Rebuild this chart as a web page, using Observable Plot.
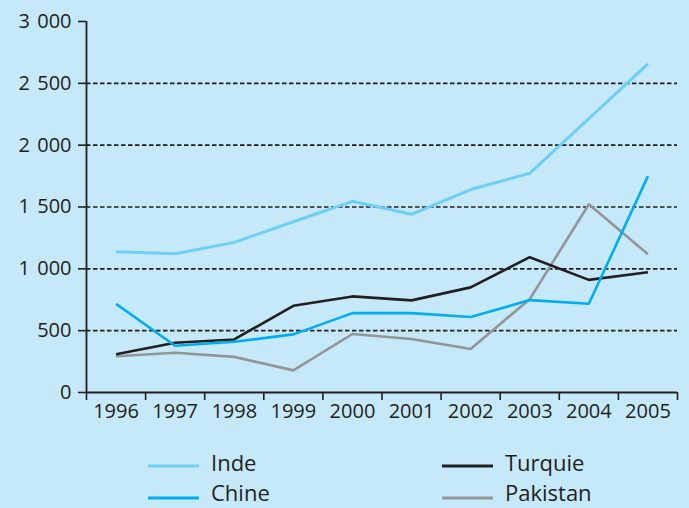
<!DOCTYPE html>
<html>
<head>
<meta charset="utf-8">
<script src="https://cdn.jsdelivr.net/npm/d3@7"></script>
<script src="https://cdn.jsdelivr.net/npm/@observablehq/plot@0.6"></script>
<style>
  html, body { margin: 0; padding: 0; background: #c6e9f9; overflow: hidden; }
  #chart { width: 689px; height: 508px; position: relative; }
  #chart svg { display: block; }
  g[aria-label="y-axis tick label"] text { word-spacing: 2px; }
</style>
</head>
<body>
<div id="chart"></div>
<script>
const years = [1996, 1997, 1998, 1999, 2000, 2001, 2002, 2003, 2004, 2005];
const inde     = [1138, 1122, 1214, 1381, 1546, 1441, 1641, 1773, 2214, 2657];
const chine    = [717, 378, 410, 470, 642, 642, 610, 747, 718, 1750];
const turquie  = [310, 402, 429, 701, 777, 745, 850, 1094, 911, 973];
const pakistan = [293, 321, 288, 179, 473, 433, 352, 755, 1522, 1118];
const yTicks = [0, 500, 1000, 1500, 2000, 2500, 3000];
const gridValues = [500, 1000, 1500, 2000, 2500];
const seriesNames = ["Inde", "Chine", "Turquie", "Pakistan"];
const seriesColors = ["#6dcff6", "#00aeef", "#231f20", "#939598"];

const ink = "#231f20";
const x0 = years[0] - 0.5, x1 = years[years.length - 1] + 0.5;
const boundaries = years.map(y => y - 0.5).concat([x1]);
const fmt = d => d3.format(",")(d).replace(/,/g, " ");

const table = (vals) => years.map((y, i) => ({year: y, value: vals[i]}));

const lineMark = (vals, color, w) => Plot.line(table(vals), {
  x: "year", y: "value", stroke: color, strokeWidth: w,
  strokeLinejoin: "miter", strokeLinecap: "butt"
});

const plot = Plot.plot({
  width: 689,
  height: 440,
  marginLeft: 86,
  marginRight: 12,
  marginTop: 21,
  marginBottom: 48,
  style: {background: "transparent", fontFamily: "'Open Sans', sans-serif", fontSize: "20px", color: ink},
  x: {type: "linear", domain: [x0, x1], label: null},
  y: {domain: [0, 3000], label: null},
  marks: [
    Plot.ruleY(gridValues, {x1: x0, x2: x1, stroke: ink, strokeWidth: 1.6, strokeDasharray: "4.5,2.5"}),
    Plot.axisY({ticks: yTicks, tickSize: 8, tickPadding: 7, tickFormat: fmt, stroke: ink, strokeWidth: 1.6, fill: ink, label: null}),
    Plot.axisX({ticks: boundaries, tickSize: 8, tickFormat: () => "", stroke: ink, strokeWidth: 1.6, label: null}),
    Plot.axisX({ticks: years, tickSize: 0, tickPadding: 11, tickFormat: d => String(d), fill: ink, label: null}),
    Plot.ruleX([x0], {y1: 0, y2: 3000, stroke: ink, strokeWidth: 1.8}),
    Plot.ruleY([0], {x1: x0, x2: x1, stroke: ink, strokeWidth: 1.8}),
    lineMark(inde, seriesColors[0], 3),
    lineMark(pakistan, seriesColors[3], 2.6),
    lineMark(turquie, seriesColors[2], 2.6),
    lineMark(chine, seriesColors[1], 2.6)
  ]
});
document.getElementById("chart").appendChild(plot);

// Legend below the plot
const legend = d3.select("#chart").append("svg")
  .attr("width", 689).attr("height", 68)
  .style("display", "block");
const items = [
  {name: seriesNames[0], color: seriesColors[0], lx: 148, row: 0},
  {name: seriesNames[1], color: seriesColors[1], lx: 148, row: 1},
  {name: seriesNames[2], color: seriesColors[2], lx: 442, row: 0},
  {name: seriesNames[3], color: seriesColors[3], lx: 442, row: 1}
];
const g = legend.selectAll("g").data(items).join("g")
  .attr("transform", d => `translate(${d.lx},${26 + d.row * 32})`);
g.append("line").attr("x1", 0).attr("x2", 51).attr("y1", 0).attr("y2", 0)
  .attr("stroke", d => d.color).attr("stroke-width", 3.2);
g.append("text").attr("x", 63).attr("y", 0).attr("dy", d => d.row ? "0.12em" : "0.22em")
  .attr("font-family", "'Open Sans', sans-serif").attr("font-size", 22)
  .attr("fill", ink).text(d => d.name);
</script>
</body>
</html>
